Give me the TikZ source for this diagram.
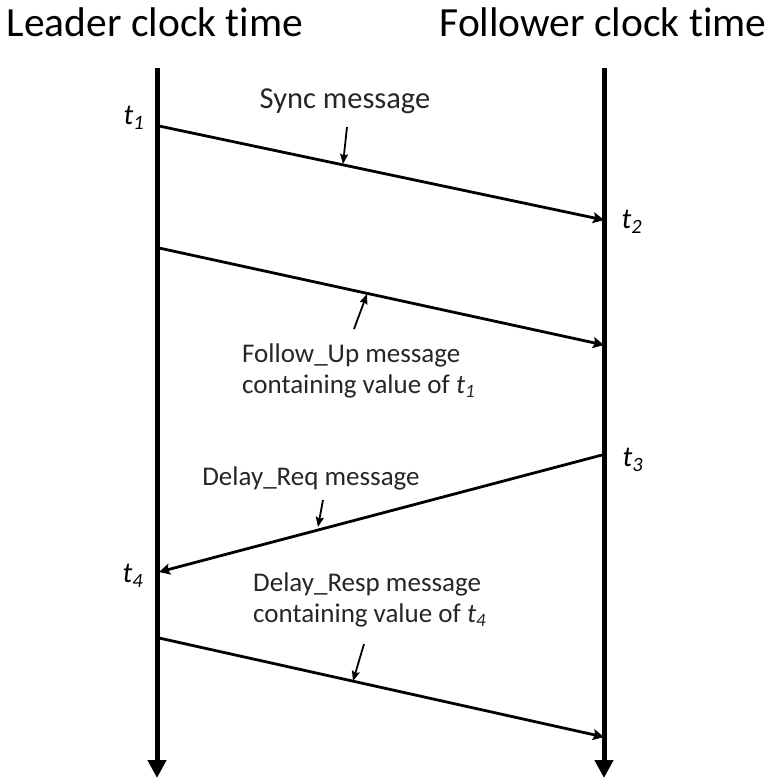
\documentclass[tikz,border=0pt]{standalone}
\usepackage{fontspec}
\setmainfont[Ligatures=CommonOff]{Carlito}
\usetikzlibrary{arrows.meta}
\tikzset{
  timeline/.style={line width=5pt,-{Triangle[width=18pt,length=18pt]}},
  msg/.style={line width=2.8pt,-{Stealth[width=11pt,length=11pt,inset=2pt]}},
  pointer/.style={line width=1.8pt,-{Stealth[width=8pt,length=10pt,inset=1.5pt]}},
  title/.style={font=\fontsize{41.5}{48}\selectfont,inner sep=0pt},
  lbl/.style={font=\fontsize{27}{31}\selectfont,text=black!85,align=left,inner sep=0pt},
  tlbl/.style={font=\fontsize{29}{32}\selectfont,inner sep=0pt}
}
\newcommand{\tsub}[1]{\textit{t}\textsubscript{\textit{#1}}}
\begin{document}
\begin{tikzpicture}[x=1pt,y=-1pt]
\useasboundingbox (0,0) rectangle (766,778);
% titles
\node[title] (lt) at (155,22) {Leader clock time};
\node[title] (ft) at (603,22) {Follower clock time};
% timelines
\coordinate (ltop) at (157,68);
\coordinate (lbot) at (157,778);
\coordinate (rtop) at (604,68);
\coordinate (rbot) at (604,778);
\draw[timeline] (ltop) -- (lbot);
\draw[timeline] (rtop) -- (rbot);
% message endpoints
\coordinate (s1) at (159,126);
\coordinate (s2) at (604,220);
\coordinate (f1) at (159,248);
\coordinate (f2) at (604,345);
\coordinate (d1) at (602,455);
\coordinate (d2) at (159,572);
\coordinate (r1) at (159,638);
\coordinate (r2) at (604,737);
\draw[msg] (s1) -- (s2);
\draw[msg] (f1) -- (f2);
\draw[msg] (d1) -- (d2);
\draw[msg] (r1) -- (r2);
% time labels
\node[tlbl] (t1) at (134,118) {\tsub{1}};
\node[tlbl] (t2) at (632,222) {\tsub{2}};
\node[tlbl] (t3) at (633,460) {\tsub{3}};
\node[tlbl] (t4) at (133,576) {\tsub{4}};
% message labels
\node[lbl,font=\fontsize{30.5}{31}\selectfont] (sync) at (345,101) {Sync message};
\node[lbl,anchor=west] (fu) at (242,371) {Follow\_Up message\\containing value of \tsub{1}};
\node[lbl] (dreq) at (311,478) {Delay\_Req message};
\node[lbl,anchor=west] (dresp) at (253,600) {Delay\_Resp message\\containing value of \tsub{4}};
% pointers
\coordinate (ps0) at (347,127);
\coordinate (ps1) at (343,164);
\coordinate (pf0) at (354,329);
\coordinate (pf1) at (367,294);
\coordinate (pd0) at (323,500);
\coordinate (pd1) at (318,527);
\coordinate (pr0) at (364,644);
\coordinate (pr1) at (353,681);
\draw[pointer] (ps0) -- (ps1);
\draw[pointer] (pf0) -- (pf1);
\draw[pointer] (pd0) -- (pd1);
\draw[pointer] (pr0) -- (pr1);
\end{tikzpicture}
\end{document}
